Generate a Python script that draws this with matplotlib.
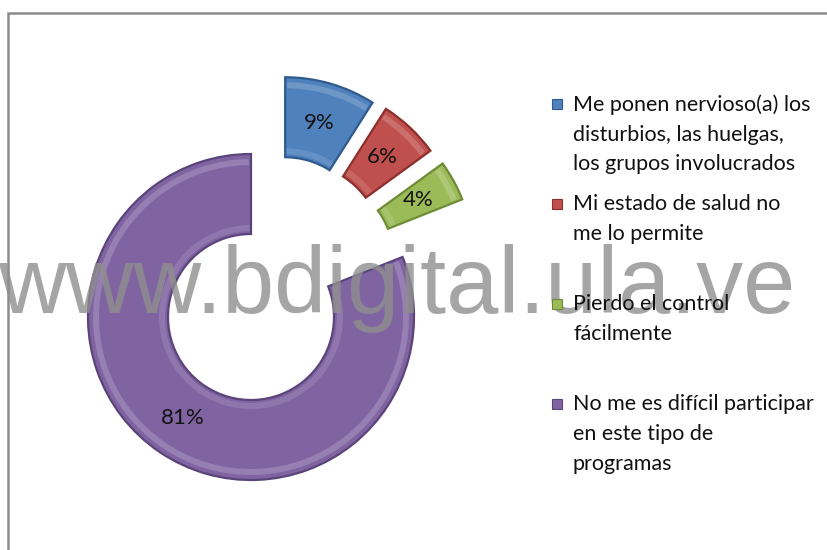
import matplotlib
matplotlib.use("Agg")
import numpy as np
import matplotlib.pyplot as plt
from matplotlib.patches import Rectangle, Wedge

# data
labels = ["Me ponen nervioso(a) los\ndisturbios, las huelgas,\nlos grupos involucrados",
          "Mi estado de salud no\nme lo permite",
          "Pierdo el control\nfácilmente",
          "No me es difícil participar\nen este tipo de\nprogramas"]
values = [9, 6, 4, 81]
colors = ["#4F81BD", "#C0504D", "#9BBB59", "#8064A2"]
edges = ["#2f5a8e", "#8c2f2c", "#6d8c35", "#5a447a"]
# how far (px) and towards which angle (deg, clockwise from top) each slice is pulled out
explode_dist = [84, 85, 83, 0]
explode_dir = [24, 34, 46, 0]

W, H = 827, 550
plt.rcParams["font.family"] = ["Lato", "DejaVu Sans"]
fig = plt.figure(figsize=(W / 100, H / 100), dpi=100)
ax = fig.add_axes([0, 0, 1, 1])

# frame (chart area border, cut by the image edge on right and bottom)
ax.add_patch(Rectangle((8, -20), W + 20, H - 13 + 20, fill=False,
                       edgecolor="#8c8c8c", lw=1.8))

R = 163
ring = 80
cx, cy = 251, H - 317
wedges, texts, autotexts = ax.pie(
    values, colors=colors, startangle=90, counterclock=False,
    radius=R, center=(cx, cy),
    wedgeprops=dict(width=ring, linewidth=0),
    autopct="%.0f%%", pctdistance=0.75, frame=True,
    textprops=dict(fontsize=16, color="#111111", zorder=5))
ax.set_xlim(0, W)
ax.set_ylim(0, H)
ax.set_aspect("equal")
ax.axis("off")

for w, t, c, ec, d, a in zip(wedges, autotexts, colors, edges, explode_dist, explode_dir):
    dx = d * np.sin(np.radians(a))
    dy = d * np.cos(np.radians(a))
    w.set_center((cx + dx, cy + dy))
    w.set_edgecolor(ec)
    w.set_linewidth(1.6)
    x, y = t.get_position()
    t.set_position((x + dx, y + dy))
    # simple bevel: light band inside the outer rim, softer one inside the inner rim
    ax.add_patch(Wedge((cx + dx, cy + dy), R - 5, w.theta1 + 0.8, w.theta2 - 0.8,
                       width=6, facecolor="white", alpha=0.18, lw=0, zorder=3))
    ax.add_patch(Wedge((cx + dx, cy + dy), R - ring + 9, w.theta1 + 0.8, w.theta2 - 0.8,
                       width=6, facecolor="white", alpha=0.12, lw=0, zorder=3))

# legend (drawn above the watermark)
lx, step = 573, 100
for i, (lab, c, ec) in enumerate(zip(labels, colors, edges)):
    ymid = H - 104 - i * step
    ax.add_patch(Rectangle((552, ymid - 5), 10, 10, facecolor=c, edgecolor=ec,
                           lw=0.8, zorder=11))
    ax.text(lx, ymid + 10, lab, fontsize=15.5, va="top", ha="left", color="#111111",
            linespacing=1.62, zorder=11)

# watermark
ax.text(-2, H - 313, "www.bdigital.ula.ve", fontsize=67.5, family="Liberation Sans",
        color="#8f8f8f", alpha=0.8, va="baseline", ha="left", zorder=10)

fig.savefig("out.png", dpi=100)
